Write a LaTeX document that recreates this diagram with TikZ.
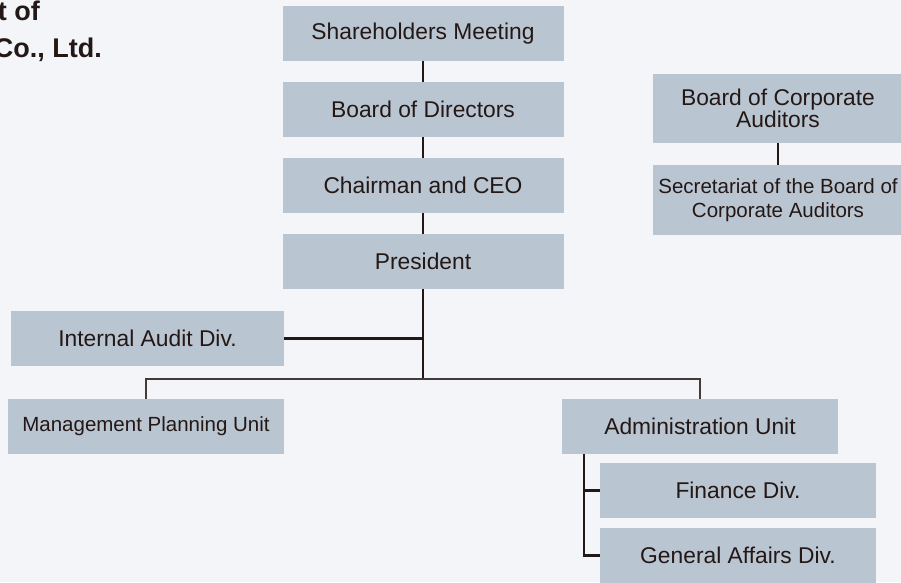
\documentclass[tikz,border=0pt]{standalone}
\usepackage{fontspec}
\setmainfont{Liberation Sans}
\definecolor{bgc}{HTML}{F3F5F9}
\definecolor{boxc}{HTML}{BAC5D2}
\definecolor{inkc}{HTML}{231815}
\begin{document}
\begin{tikzpicture}[x=1pt,y=-1pt,
  orgbox/.style={fill=boxc, inner sep=0pt, text=inkc, align=center, font=\fontsize{22.8}{22}\selectfont, minimum height=55pt},
  mainline/.style={draw=inkc, line width=2.2pt},
  thinline/.style={draw=inkc!85, line width=1.1pt},
  titletext/.style={text=inkc, inner sep=0pt, font=\fontsize{27}{28}\bfseries\selectfont}]
\fill[bgc] (0,0) rectangle (901,582);
\useasboundingbox (0,0) rectangle (901,582);
% title fragments
\node[titletext, anchor=base east] (t1) at (40,20) {t of};
\node[titletext, anchor=base east] (t2) at (102,57) {Co., Ltd.};
% main column
\node[orgbox, minimum width=281pt] (sh) at (423,33.5) {Shareholders Meeting};
\node[orgbox, minimum width=281pt] (bd) at (423,109.5) {Board of Directors};
\node[orgbox, minimum width=281pt] (ch) at (423,185.5) {Chairman and CEO};
\node[orgbox, minimum width=281pt] (pr) at (423,261.5) {President};
% auditors
\node[orgbox, minimum width=250pt, minimum height=69pt] (bca) at (778,108.5) {Board of Corporate\\Auditors};
\node[orgbox, minimum width=250pt, minimum height=70pt, font=\fontsize{20.5}{24.5}\selectfont] (sec) at (778,200) {Secretariat of the Board of\\Corporate Auditors};
% lower
\node[orgbox, minimum width=273pt] (ia) at (147.5,338.5) {Internal Audit Div.};
\node[orgbox, minimum width=276pt, font=\fontsize{20.5}{22}\selectfont] (mp) at (146,426.5) {Management Planning Unit};
\node[orgbox, minimum width=276pt] (ad) at (700,426.5) {Administration Unit};
\node[orgbox, minimum width=276pt] (fi) at (738,490.5) {Finance Div.};
\node[orgbox, minimum width=276pt] (ga) at (738,555.5) {General Affairs Div.};
\coordinate (jn) at (423,379);
\coordinate (adl) at (584,454);
% connectors
\draw[mainline] (sh.south) -- (bd.north);
\draw[mainline] (bd.south) -- (ch.north);
\draw[mainline] (ch.south) -- (pr.north);
\draw[mainline] (bca.south) -- (sec.north);
\draw[mainline] (pr.south) -- (jn);
\draw[mainline] (ia.east) -- (ia.east -| jn);
\draw[thinline] (mp.north) |- (jn) -| (ad.north);
\draw[mainline] (adl) |- (ga.west);
\draw[mainline] (adl |- fi.west) -- (fi.west);
\end{tikzpicture}
\end{document}
